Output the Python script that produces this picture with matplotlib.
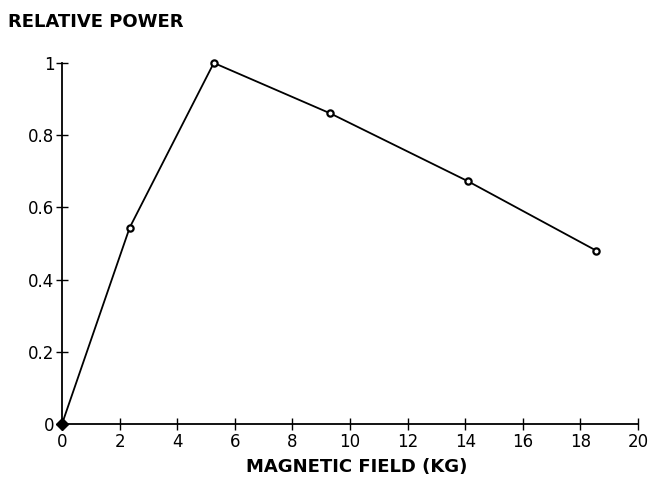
import matplotlib
matplotlib.use("Agg")
import matplotlib.pyplot as plt

field_kg = [0.0, 2.35, 5.27, 9.32, 14.1, 18.55]
rel_power = [0.0, 0.544, 1.0, 0.86, 0.672, 0.48]
x_ticks = [0, 2, 4, 6, 8, 10, 12, 14, 16, 18, 20]
y_ticks = [0, 0.2, 0.4, 0.6, 0.8, 1]
y_tick_labels = ["0", "0.2", "0.4", "0.6", "0.8", "1"]

plt.rcParams['font.family'] = ['DejaVu Sans']
fig = plt.figure(figsize=(6.48, 4.84), dpi=100)
ax = fig.add_axes([0.0957, 0.124, 0.889, 0.746])

ax.plot(field_kg, rel_power, color='black', lw=1.3, marker='o', ms=4.5,
        mfc='white', mec='black', mew=1.6, clip_on=False, zorder=3)
ax.plot(field_kg[0], rel_power[0], marker='D', ms=6, color='black',
        clip_on=False, zorder=4)

ax.set_xlim(0, 20)
ax.set_ylim(0, 1)
ax.set_xticks(x_ticks)
ax.set_xticklabels([str(t) for t in x_ticks])
ax.set_yticks(y_ticks)
ax.set_yticklabels(y_tick_labels)
for s in ['top', 'right']:
    ax.spines[s].set_visible(False)
for s in ['left', 'bottom']:
    ax.spines[s].set_linewidth(1.3)
ax.tick_params(axis='both', direction='inout', length=9, width=1.0,
               labelsize=12, pad=2)
ax.tick_params(axis='y', pad=1)

fig.text(0.012, 0.955, "RELATIVE POWER", fontsize=13, fontweight='bold',
         ha='left', va='center')
fig.text(0.551, 0.035, "MAGNETIC FIELD (KG)", fontsize=13, fontweight='bold',
         ha='center', va='center')

fig.savefig("out.png", dpi=100)
